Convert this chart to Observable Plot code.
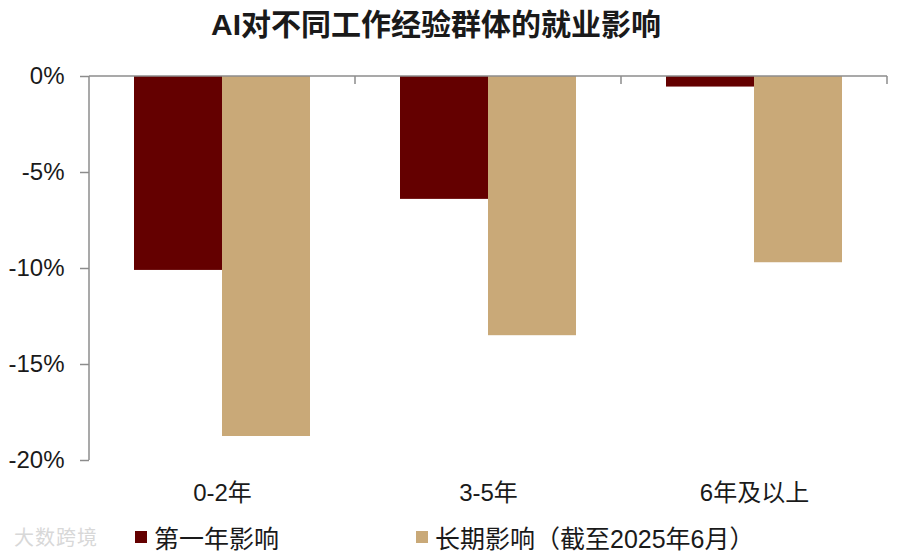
<!DOCTYPE html>
<html>
<head>
<meta charset="utf-8">
<script src="https://cdn.jsdelivr.net/npm/d3@7"></script>
<script src="https://cdn.jsdelivr.net/npm/@observablehq/plot@0.6"></script>
<style>
  html, body { margin: 0; padding: 0; background: #fff; }
  body { width: 900px; height: 555px; overflow: hidden; font-family: "Liberation Sans", "Noto Sans CJK SC", sans-serif; color: #1a1a1a; position: relative; }
  #title { height: 50px; line-height: 50px; font-size: 30px; font-weight: bold; text-align: center; padding-right: 28px; box-sizing: border-box; width: 900px; }
  #legend { position: relative; height: 40px; font-size: 25px; }
  .item { position: absolute; top: 4px; display: flex; align-items: center; white-space: nowrap; }
  .sw { width: 12px; height: 12px; margin-right: 7px; }
  #wm { position: absolute; left: 14px; top: 7px; font-size: 20px; color: #d8d8d8; letter-spacing: 1px; }
</style>
</head>
<body>
<div id="title">AI对不同工作经验群体的就业影响</div>
<div id="chart"></div>
<div id="legend"></div>
<script>
const categories = ["0-2年", "3-5年", "6年及以上"];
const seriesNames = ["第一年影响", "长期影响（截至2025年6月）"];
const firstYear = [-10.1, -6.4, -0.55];
const longTerm = [-18.75, -13.5, -9.7];
const yTicks = [0, -5, -10, -15, -20];
const colors = ["#640000", "#C9A978"];

const data = [];
categories.forEach((c, i) => {
  data.push({group: c, series: seriesNames[0], value: firstYear[i]});
  data.push({group: c, series: seriesNames[1], value: longTerm[i]});
});

const axisColor = "#8c8c8c";

function axisFrame(index, scales, values, dimensions) {
  const {y, fx} = scales;
  const {width, marginLeft, marginRight} = dimensions;
  const g = d3.create("svg:g").attr("stroke", axisColor).attr("stroke-width", 1.5).attr("fill", "none");
  const y0 = y(0), yMin = y(d3.min(yTicks));
  g.append("line").attr("x1", marginLeft).attr("x2", width - marginRight).attr("y1", y0).attr("y2", y0);
  g.append("line").attr("x1", marginLeft).attr("x2", marginLeft).attr("y1", y0).attr("y2", yMin);
  let edges;
  if (fx && fx.bandwidth) {
    edges = categories.map(c => fx(c) + fx.bandwidth());
  } else {
    const step = (width - marginLeft - marginRight) / categories.length;
    edges = categories.map((c, i) => marginLeft + step * (i + 1));
  }
  edges.forEach(x => g.append("line").attr("x1", x).attr("x2", x).attr("y1", y0).attr("y2", y0 + 8));
  return g.node();
}

const chart = Plot.plot({
  width: 900,
  height: 465,
  marginTop: 26,
  marginBottom: 55,
  marginLeft: 88,
  marginRight: 13,
  style: {fontFamily: "'Liberation Sans', 'Noto Sans CJK SC', sans-serif", color: "#1a1a1a", background: "#fff"},
  fx: {domain: categories, padding: 0},
  x: {domain: seriesNames, paddingInner: 0, paddingOuter: 0.5, axis: null},
  y: {domain: [-20, 0]},
  color: {domain: seriesNames, range: colors},
  marks: [
    Plot.barY(data, {fx: "group", x: "series", y: "value", fill: "series", inset: 0}),
    Plot.axisY({ticks: yTicks, tickFormat: d => d + "%", tickSize: 9, tickPadding: 16, fontSize: 24, stroke: axisColor, strokeWidth: 1.5, fill: "#1a1a1a", label: null}),
    Plot.axisFx({anchor: "bottom", tickSize: 0, tickPadding: 23, fontSize: 24, fill: "#1a1a1a", label: null}),
    Plot.frame({facet: "super", render: (index, scales, values, dimensions) => axisFrame(index, scales, values, dimensions)})
  ]
});
document.getElementById("chart").appendChild(chart);

const legend = document.getElementById("legend");
const wm = document.createElement("div");
wm.id = "wm";
wm.textContent = "大数跨境";
legend.appendChild(wm);
const lefts = [135, 416];
seriesNames.forEach((s, i) => {
  const it = document.createElement("div");
  it.className = "item";
  it.style.left = lefts[i] + "px";
  const sw = document.createElement("span");
  sw.className = "sw";
  sw.style.background = colors[i];
  const t = document.createElement("span");
  t.textContent = s;
  it.appendChild(sw);
  it.appendChild(t);
  legend.appendChild(it);
});
</script>
</body>
</html>
